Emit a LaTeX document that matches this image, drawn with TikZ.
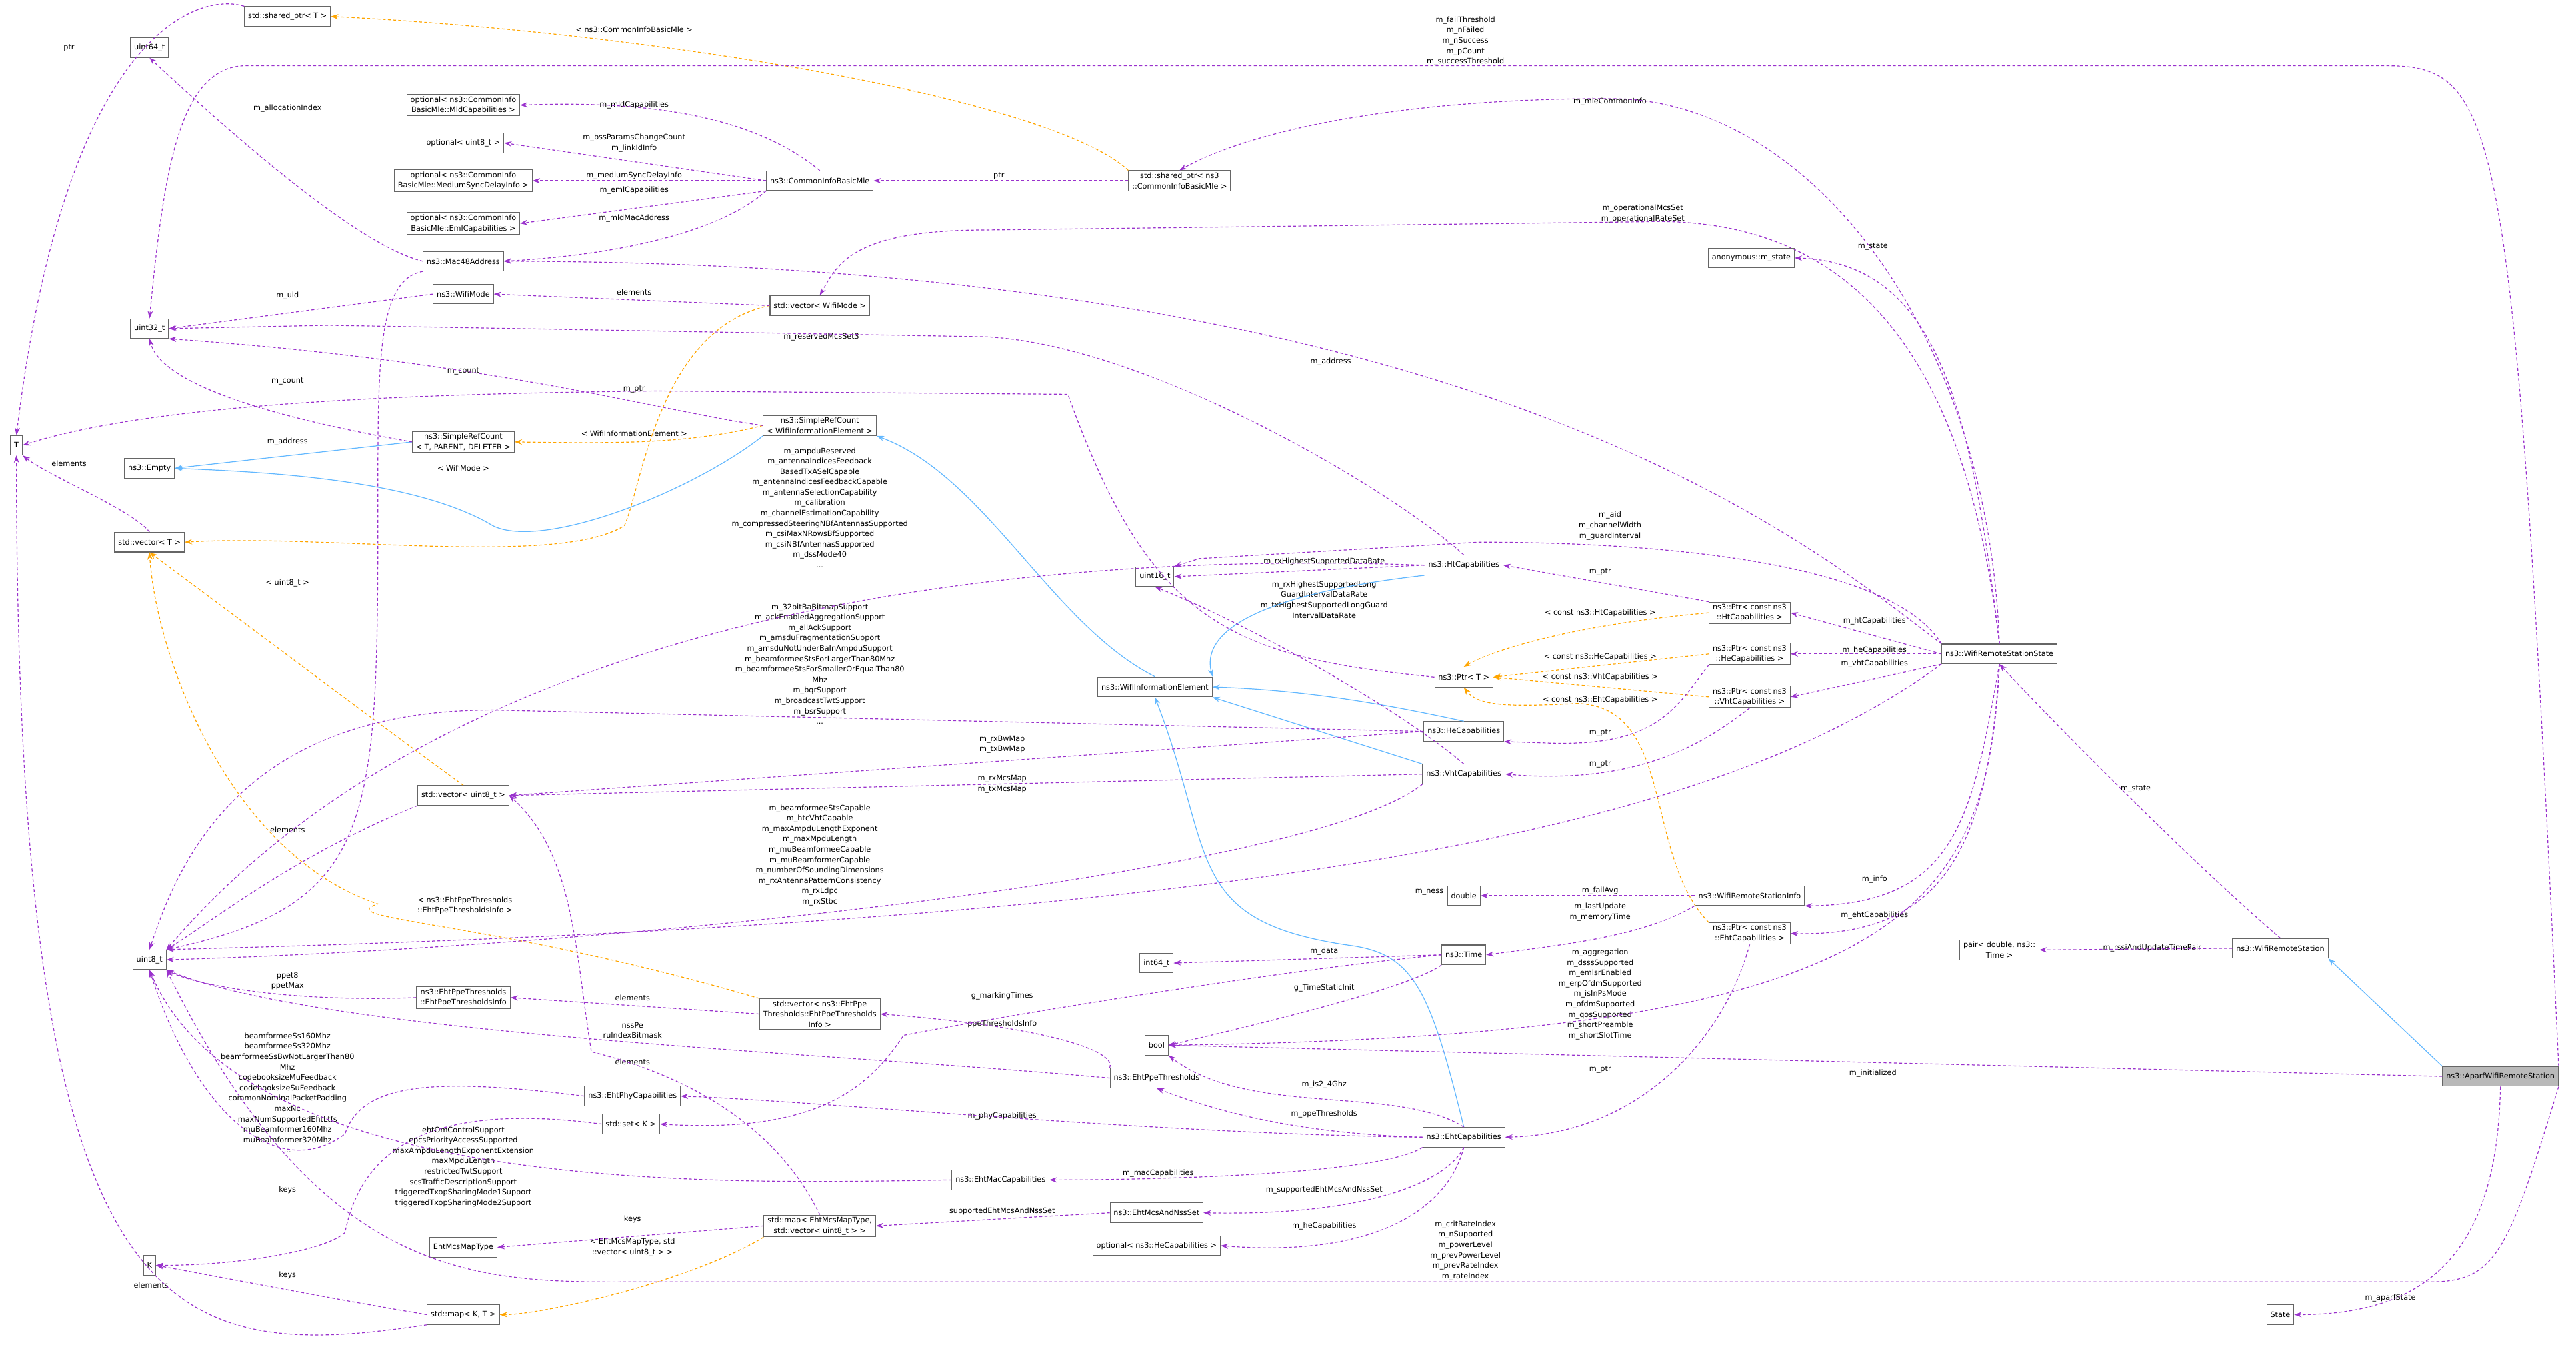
\documentclass[tikz,border=0pt]{standalone}
\usepackage{fontspec}
\setmainfont{DejaVu Sans}
\usetikzlibrary{arrows.meta}
\definecolor{mem}{HTML}{9A32CD}
\definecolor{tpl}{HTML}{FFA500}
\definecolor{inh}{HTML}{63B8FF}
\definecolor{bx}{HTML}{666666}
\begin{document}
\begin{tikzpicture}[x=0.1cm,y=-0.1cm,
  every node/.style={font=\fontsize{13}{18}\selectfont},
  box/.style={draw=bx,line width=1.2pt,fill=white,align=center,inner xsep=0.22cm,inner ysep=0.12cm,minimum height=1.2cm},
  lbl/.style={align=center,inner sep=0pt},
  memb/.style={draw=mem,dashed,dash pattern=on 5pt off 4pt,line width=1.4pt,-{Stealth[length=0.45cm,width=0.32cm]},color=mem},
  tmpl/.style={draw=tpl,dashed,dash pattern=on 5pt off 4pt,line width=1.4pt,-{Stealth[length=0.45cm,width=0.32cm]},color=tpl},
  inhr/.style={draw=inh,line width=1.4pt,-{Stealth[length=0.45cm,width=0.32cm]},color=inh}]
\useasboundingbox (0,0) rectangle (1568,823);
% nodes
\node[box] (T) at (10,271) {T};
\node[box] (shT) at (175,10) {std::shared\_ptr< T >};
\node[box] (u64) at (91,29) {uint64\_t};
\node[box] (omld) at (282,64) {optional< ns3::CommonInfo\\BasicMle::MldCapabilities >};
\node[box] (ou8) at (282,87) {optional< uint8\_t >};
\node[box] (omed) at (282,110) {optional< ns3::CommonInfo\\BasicMle::MediumSyncDelayInfo >};
\node[box] (oeml) at (282,136) {optional< ns3::CommonInfo\\BasicMle::EmlCapabilities >};
\node[box] (cibm) at (499,110) {ns3::CommonInfoBasicMle};
\node[box] (shC) at (718,110) {std::shared\_ptr< ns3\\::CommonInfoBasicMle >};
\node[box] (mac) at (282,159) {ns3::Mac48Address};
\node[box] (wm) at (282,179) {ns3::WifiMode};
\node[box] (vwm) at (499,186) {std::vector< WifiMode >};
\node[box] (u32) at (91,200) {uint32\_t};
\node[box] (srcT) at (282,269) {ns3::SimpleRefCount\\< T, PARENT, DELETER >};
\node[box] (srcW) at (499,259) {ns3::SimpleRefCount\\< WifiInformationElement >};
\node[box] (empty) at (91,285) {ns3::Empty};
\node[box] (vT) at (91,330) {std::vector< T >};
\node[box] (anon) at (1066,157) {anonymous::m\_state};
\node[box] (u16) at (703,351) {uint16\_t};
\node[box] (ht) at (891,344) {ns3::HtCapabilities};
\node[box] (wie) at (703,418) {ns3::WifiInformationElement};
\node[box] (ptrT) at (891,412) {ns3::Ptr< T >};
\node[box] (pht) at (1065,373) {ns3::Ptr< const ns3\\::HtCapabilities >};
\node[box] (phe) at (1065,398) {ns3::Ptr< const ns3\\::HeCapabilities >};
\node[box] (pvht) at (1065,424) {ns3::Ptr< const ns3\\::VhtCapabilities >};
\node[box] (state) at (1217,398) {ns3::WifiRemoteStationState};
\node[box] (he) at (891,445) {ns3::HeCapabilities};
\node[box] (vht) at (891,471) {ns3::VhtCapabilities};
\node[box] (vu8) at (282,484) {std::vector< uint8\_t >};
\node[box] (dbl) at (891,545) {double};
\node[box] (info) at (1065,545) {ns3::WifiRemoteStationInfo};
\node[box] (peht) at (1065,568) {ns3::Ptr< const ns3\\::EhtCapabilities >};
\node[box] (time) at (891,581) {ns3::Time};
\node[box] (i64) at (704,586) {int64\_t};
\node[box] (u8) at (91,584) {uint8\_t};
\node[box] (pair) at (1217,578) {pair< double, ns3::\\Time >};
\node[box] (wrs) at (1388,577) {ns3::WifiRemoteStation};
\node[box] (ppei) at (282,607) {ns3::EhtPpeThresholds\\::EhtPpeThresholdsInfo};
\node[box] (vppe) at (499,617) {std::vector< ns3::EhtPpe\\Thresholds::EhtPpeThresholds\\Info >};
\node[box] (bool) at (704,636) {bool};
\node[box] (ppe) at (704,656) {ns3::EhtPpeThresholds};
\node[box,fill=gray!55] (aparf) at (1522,655) {ns3::AparfWifiRemoteStation};
\node[box] (phy) at (385,667) {ns3::EhtPhyCapabilities};
\node[box] (setK) at (384,684) {std::set< K >};
\node[box] (eht) at (891,692) {ns3::EhtCapabilities};
\node[box] (macc) at (609,718) {ns3::EhtMacCapabilities};
\node[box] (mcs) at (704,738) {ns3::EhtMcsAndNssSet};
\node[box] (mapE) at (499,746) {std::map< EhtMcsMapType,\\std::vector< uint8\_t > >};
\node[box] (emt) at (282,759) {EhtMcsMapType};
\node[box] (ohe) at (704,758) {optional< ns3::HeCapabilities >};
\node[box] (K) at (91,770) {K};
\node[box] (mapKT) at (282,800) {std::map< K, T >};
\node[box] (stt) at (1388,800) {State};
% labels
\node[lbl] (l1) at (892,25) {m\_failThreshold\\m\_nFailed\\m\_nSuccess\\m\_pCount\\m\_successThreshold};
\node[lbl] (l2) at (42,29) {ptr};
\node[lbl] (l3) at (386,18) {< ns3::CommonInfoBasicMle >};
\node[lbl] (l4) at (175,66) {m\_allocationIndex};
\node[lbl] (l5) at (386,64) {m\_mldCapabilities};
\node[lbl] (l6) at (386,87) {m\_bssParamsChangeCount\\m\_linkIdInfo};
\node[lbl] (l7) at (386,107) {m\_mediumSyncDelayInfo};
\node[lbl] (l8) at (386,116) {m\_emlCapabilities};
\node[lbl] (l9) at (386,133) {m\_mldMacAddress};
\node[lbl] (l10) at (608,107) {ptr};
\node[lbl] (l11) at (175,180) {m\_uid};
\node[lbl] (l12) at (386,178) {elements};
\node[lbl] (l13) at (500,205) {m\_reservedMcsSet3};
\node[lbl] (l14) at (282,226) {m\_count};
\node[lbl] (l15) at (175,232) {m\_count};
\node[lbl] (l16) at (386,237) {m\_ptr};
\node[lbl] (l17) at (386,264) {< WifiInformationElement >};
\node[lbl] (l18) at (175,269) {m\_address};
\node[lbl] (l19) at (42,282) {elements};
\node[lbl] (l20) at (282,285) {< WifiMode >};
\node[lbl] (l21) at (1140,150) {m\_state};
\node[lbl] (l22) at (980,62) {m\_mleCommonInfo};
\node[lbl] (l23) at (1000,130) {m\_operationalMcsSet\\m\_operationalRateSet};
\node[lbl] (l24) at (810,220) {m\_address};
\node[lbl] (l25) at (980,320) {m\_aid\\m\_channelWidth\\m\_guardInterval};
\node[lbl] (l26) at (499,309) {m\_ampduReserved\\m\_antennaIndicesFeedback\\BasedTxASelCapable\\m\_antennaIndicesFeedbackCapable\\m\_antennaSelectionCapability\\m\_calibration\\m\_channelEstimationCapability\\m\_compressedSteeringNBfAntennasSupported\\m\_csiMaxNRowsBfSupported\\m\_csiNBfAntennasSupported\\m\_dssMode40\\...};
\node[lbl] (l27) at (806,342) {m\_rxHighestSupportedDataRate};
\node[lbl] (l28) at (806,365) {m\_rxHighestSupportedLong\\GuardIntervalDataRate\\m\_txHighestSupportedLongGuard\\IntervalDataRate};
\node[lbl] (l29) at (175,355) {< uint8\_t >};
\node[lbl] (l30) at (499,404) {m\_32bitBaBitmapSupport\\m\_ackEnabledAggregationSupport\\m\_allAckSupport\\m\_amsduFragmentationSupport\\m\_amsduNotUnderBaInAmpduSupport\\m\_beamformeeStsForLargerThan80Mhz\\m\_beamformeeStsForSmallerOrEqualThan80\\Mhz\\m\_bqrSupport\\m\_broadcastTwtSupport\\m\_bsrSupport\\...};
\node[lbl] (l31) at (974,348) {m\_ptr};
\node[lbl] (l32) at (974,373) {< const ns3::HtCapabilities >};
\node[lbl] (l33) at (974,400) {< const ns3::HeCapabilities >};
\node[lbl] (l34) at (974,412) {< const ns3::VhtCapabilities >};
\node[lbl] (l35) at (974,426) {< const ns3::EhtCapabilities >};
\node[lbl] (l36) at (974,446) {m\_ptr};
\node[lbl] (l37) at (974,465) {m\_ptr};
\node[lbl] (l38) at (1141,378) {m\_htCapabilities};
\node[lbl] (l39) at (1141,396) {m\_heCapabilities};
\node[lbl] (l40) at (1141,404) {m\_vhtCapabilities};
\node[lbl] (l41) at (610,453) {m\_rxBwMap\\m\_txBwMap};
\node[lbl] (l42) at (610,477) {m\_rxMcsMap\\m\_txMcsMap};
\node[lbl] (l43) at (499,523) {m\_beamformeeStsCapable\\m\_htcVhtCapable\\m\_maxAmpduLengthExponent\\m\_maxMpduLength\\m\_muBeamformeeCapable\\m\_muBeamformerCapable\\m\_numberOfSoundingDimensions\\m\_rxAntennaPatternConsistency\\m\_rxLdpc\\m\_rxStbc\\...};
\node[lbl] (l44) at (175,505) {elements};
\node[lbl] (l45) at (870,543) {m\_ness};
\node[lbl] (l46) at (974,542) {m\_failAvg};
\node[lbl] (l47) at (974,555) {m\_lastUpdate\\m\_memoryTime};
\node[lbl] (l48) at (1141,535) {m\_info};
\node[lbl] (l49) at (1141,557) {m\_ehtCapabilities};
\node[lbl] (l50) at (974,605) {m\_aggregation\\m\_dsssSupported\\m\_emlsrEnabled\\m\_erpOfdmSupported\\m\_isInPsMode\\m\_ofdmSupported\\m\_qosSupported\\m\_shortPreamble\\m\_shortSlotTime};
\node[lbl] (l51) at (974,651) {m\_ptr};
\node[lbl] (l52) at (1300,480) {m\_state};
\node[lbl] (l53) at (1310,577) {m\_rssiAndUpdateTimePair};
\node[lbl] (l54) at (1140,653) {m\_initialized};
\node[lbl] (l55) at (1455,790) {m\_aparfState};
\node[lbl] (l56) at (892,761) {m\_critRateIndex\\m\_nSupported\\m\_powerLevel\\m\_prevPowerLevel\\m\_prevRateIndex\\m\_rateIndex};
\node[lbl] (l57) at (806,579) {m\_data};
\node[lbl] (l58) at (610,606) {g\_markingTimes};
\node[lbl] (l59) at (610,623) {ppeThresholdsInfo};
\node[lbl] (l60) at (806,601) {g\_TimeStaticInit};
\node[lbl] (l61) at (806,660) {m\_is2\_4Ghz};
\node[lbl] (l62) at (806,678) {m\_ppeThresholds};
\node[lbl] (l63) at (610,679) {m\_phyCapabilities};
\node[lbl] (l64) at (705,714) {m\_macCapabilities};
\node[lbl] (l65) at (806,724) {m\_supportedEhtMcsAndNssSet};
\node[lbl] (l66) at (610,737) {supportedEhtMcsAndNssSet};
\node[lbl] (l67) at (806,746) {m\_heCapabilities};
\node[lbl] (l68) at (283,551) {< ns3::EhtPpeThresholds\\::EhtPpeThresholdsInfo >};
\node[lbl] (l69) at (175,597) {ppet8\\ppetMax};
\node[lbl] (l70) at (385,607) {elements};
\node[lbl] (l71) at (385,627) {nssPe\\ruIndexBitmask};
\node[lbl] (l72) at (385,646) {elements};
\node[lbl] (l73) at (175,665) {beamformeeSs160Mhz\\beamformeeSs320Mhz\\beamformeeSsBwNotLargerThan80\\Mhz\\codebooksizeMuFeedback\\codebooksizeSuFeedback\\commonNominalPacketPadding\\maxNc\\maxNumSupportedEhtLtfs\\muBeamformer160Mhz\\muBeamformer320Mhz\\...};
\node[lbl] (l74) at (282,710) {ehtOmControlSupport\\epcsPriorityAccessSupported\\maxAmpduLengthExponentExtension\\maxMpduLength\\restrictedTwtSupport\\scsTrafficDescriptionSupport\\triggeredTxopSharingMode1Support\\triggeredTxopSharingMode2Support};
\node[lbl] (l75) at (175,724) {keys};
\node[lbl] (l76) at (385,742) {keys};
\node[lbl] (l77) at (385,759) {< EhtMcsMapType, std\\::vector< uint8\_t > >};
\node[lbl] (l78) at (175,776) {keys};
\node[lbl] (l79) at (92,782) {elements};
% inheritance
\draw[inhr] (aparf.north west) -- (wrs.south east);
\draw[inhr] (srcT.west) -- (empty.east);
\draw[inhr] (srcW.south west) .. controls (420,300) and (330,335) .. (300,320) .. controls (250,290) and (150,287) .. (empty.east);
\draw[inhr] (wie.north) .. controls (640,380) and (600,290) .. (srcW.south east);
\draw[inhr] (ht.south west) .. controls (780,360) and (730,380) .. (wie.north east);
\draw[inhr] (he.north) .. controls (850,430) and (800,420) .. (wie.east);
\draw[inhr] (vht.north west) -- (wie.south east);
\draw[inhr] (eht.north) .. controls (870,600) and (860,580) .. (820,575) .. controls (720,560) and (740,520) .. (wie.south);
% template
\draw[tmpl] (shC.north west) .. controls (640,60) and (400,20) .. (shT.east);
\draw[tmpl] (vwm.west) .. controls (400,200) and (390,300) .. (380,320) .. controls (340,345) and (200,325) .. (vT.east);
\draw[tmpl] (srcW.west) .. controls (420,270) and (380,270) .. (srcT.east);
\draw[tmpl] (pht.west) .. controls (960,380) and (910,395) .. (ptrT.north);
\draw[tmpl] (phe.west) -- (ptrT.east);
\draw[tmpl] (pvht.west) -- (ptrT.east);
\draw[tmpl] (peht.north west) .. controls (1000,520) and (1020,430) .. (960,428) .. controls (920,430) and (900,430) .. (ptrT.south);
\draw[tmpl] (vu8.north) .. controls (230,440) and (150,380) .. (vT.south);
\draw[tmpl] (vppe.north west) .. controls (300,560) and (200,560) .. (230,550) .. controls (140,520) and (95,400) .. (vT.south);
\draw[tmpl] (mapE.south west) .. controls (420,780) and (330,800) .. (mapKT.east);
% members from Aparf
\draw[memb] (aparf.north east) .. controls (1530,60) and (1520,40) .. (1450,40) -- (150,40) .. controls (110,40) and (100,100) .. (u32.north);
\draw[memb] (aparf.south east) .. controls (1527,760) and (1520,780) .. (1480,780) -- (400,780) .. controls (300,780) and (200,790) .. (u8.south east);
\draw[memb] (aparf.west) -- (bool.east);
\draw[memb] (aparf.south) .. controls (1520,760) and (1480,800) .. (stt.east);
\draw[memb] (wrs.west) -- (pair.east);
\draw[memb] (wrs.north) .. controls (1340,530) and (1260,450) .. (state.south);
% WifiRemoteStationState members
\draw[memb] (state.north) .. controls (1200,250) and (1180,160) .. (anon.east);
\draw[memb] (state.north) .. controls (1210,200) and (1100,60) .. (980,60) .. controls (850,60) and (760,80) .. (shC.north);
\draw[memb] (state.north) .. controls (1200,250) and (1150,130) .. (1000,135) -- (600,140) .. controls (520,140) and (510,160) .. (vwm.north);
\draw[memb] (state.north west) .. controls (1100,330) and (900,160) .. (mac.east);
\draw[memb] (state.north west) .. controls (1150,340) and (1000,330) .. (900,330) -- (730,340) -- (u16.north east);
\draw[memb] (state.west) -- (pht.east);
\draw[memb] (state.west) -- (phe.east);
\draw[memb] (state.south west) -- (pvht.east);
\draw[memb] (state.south west) .. controls (1050,500) and (800,560) .. (u8.north east);
\draw[memb] (state.south) .. controls (1200,500) and (1190,550) .. (info.south east);
\draw[memb] (state.south) .. controls (1210,520) and (1180,570) .. (peht.east);
\draw[memb] (state.south) .. controls (1210,560) and (1150,630) .. (bool.east);
% Ptr members
\draw[memb] (pht.north west) -- (ht.east);
\draw[memb] (phe.south west) .. controls (1020,430) and (1010,455) .. (940,452) -- (he.south east);
\draw[memb] (pvht.south) .. controls (1040,450) and (1000,478) .. (vht.east);
\draw[memb] (peht.south) .. controls (1050,630) and (1000,690) .. (eht.east);
\draw[memb] (ptrT.west) .. controls (750,400) and (700,380) .. (650,240) -- (400,238) .. controls (200,240) and (80,250) .. (T.east);
% info, time
\draw[memb] (info.west) -- (dbl.east);
\draw[memb] (info.south west) .. controls (1000,570) and (950,575) .. (time.east);
\draw[memb] (time.west) -- (i64.east);
\draw[memb] (time.south west) .. controls (860,600) and (780,620) .. (bool.east);
\draw[memb] (time.west) .. controls (780,590) and (600,620) .. (550,630) .. controls (530,660) and (500,690) .. (setK.east);
% top-left members
\draw[memb] (shT.north west) .. controls (120,-5) and (40,20) .. (T.north);
\draw[memb] (mac.west) .. controls (220,150) and (150,90) .. (u64.south);
\draw[memb] (cibm.north) .. controls (470,80) and (420,60) .. (omld.east);
\draw[memb] (cibm.west) -- (ou8.east);
\draw[memb] (cibm.west) -- (omed.east);
\draw[memb] (cibm.south west) -- (oeml.east);
\draw[memb] (cibm.south west) .. controls (440,140) and (380,155) .. (mac.east);
\draw[memb] (mac.south west) .. controls (230,170) and (230,220) .. (230,300) .. controls (230,500) and (230,550) .. (u8.north east);
\draw[memb] (shC.west) -- (cibm.east);
\draw[memb] (wm.west) -- (u32.east);
\draw[memb] (vwm.west) -- (wm.east);
\draw[memb] (ht.north) .. controls (850,300) and (700,210) .. (600,205) -- (200,198) -- (u32.east);
\draw[memb] (srcW.west) .. controls (400,250) and (300,220) .. (u32.south east);
\draw[memb] (srcT.west) .. controls (200,260) and (100,240) .. (u32.south);
\draw[memb] (vT.north) .. controls (80,310) and (30,290) .. (T.south east);
% capabilities members to uint8 etc
\draw[memb] (ht.west) .. controls (700,338) and (300,345) .. (u8.north east);
\draw[memb] (ht.west) -- (u16.east);
\draw[memb] (vht.north) .. controls (850,430) and (760,380) .. (u16.south);
\draw[memb] (he.west) -- (300,432) .. controls (150,432) and (110,520) .. (u8.north);
\draw[memb] (he.west) -- (vu8.east);
\draw[memb] (vht.west) -- (vu8.east);
\draw[memb] (vht.south west) .. controls (800,530) and (400,575) .. (u8.east);
\draw[memb] (vu8.south west) .. controls (180,520) and (130,560) .. (u8.north east);
% EHT
\draw[memb] (eht.west) .. controls (700,690) and (500,670) .. (phy.east);
\draw[memb] (eht.west) .. controls (800,690) and (750,680) .. (ppe.south);
\draw[memb] (eht.north) .. controls (850,660) and (760,680) .. (bool.south east);
\draw[memb] (eht.south west) .. controls (840,715) and (700,718) .. (macc.east);
\draw[memb] (eht.south) .. controls (880,720) and (830,740) .. (mcs.east);
\draw[memb] (eht.south) .. controls (880,740) and (830,765) .. (ohe.east);
\draw[memb] (ppe.north west) .. controls (680,640) and (640,625) .. (vppe.east);
\draw[memb] (ppe.west) .. controls (500,640) and (200,630) .. (u8.south east);
\draw[memb] (vppe.west) -- (ppei.east);
\draw[memb] (ppei.west) .. controls (180,610) and (120,600) .. (u8.south east);
\draw[memb] (phy.west) .. controls (260,655) and (220,660) .. (210,690) .. controls (170,720) and (120,680) .. (u8.south);
\draw[memb] (macc.west) .. controls (450,720) and (150,730) .. (u8.south);
\draw[memb] (setK.west) .. controls (260,670) and (220,700) .. (210,750) .. controls (200,760) and (150,770) .. (K.east);
\draw[memb] (mapE.west) -- (emt.east);
\draw[memb] (mapE.north) .. controls (480,700) and (440,660) .. (360,640) .. controls (350,580) and (350,520) .. (vu8.east);
\draw[memb] (mcs.west) -- (mapE.east);
\draw[memb] (mapKT.west) .. controls (200,790) and (150,780) .. (K.east);
\draw[memb] (mapKT.south west) .. controls (100,830) and (10,810) .. (T.south);
\end{tikzpicture}
\end{document}
